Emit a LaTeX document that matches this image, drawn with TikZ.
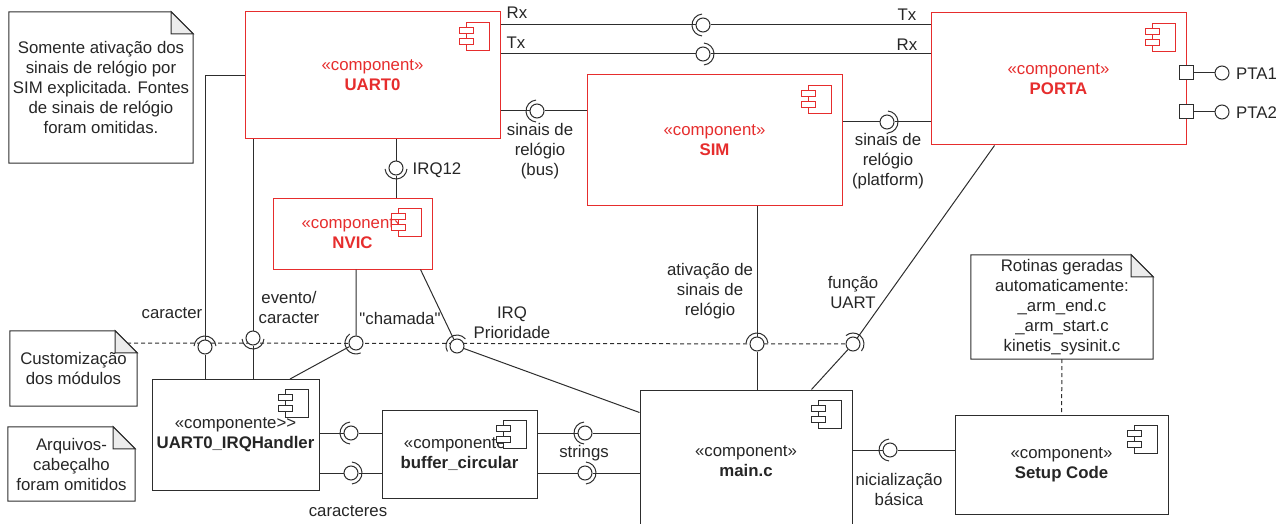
\documentclass[tikz,border=0pt]{standalone}
\usepackage{fontspec}
\setmainfont{Liberation Sans}[Ligatures=TeXOff]
\usepackage{tikz}
\usetikzlibrary{positioning, backgrounds}
\definecolor{compred}{RGB}{230,45,45}
\definecolor{lncol}{RGB}{45,45,45}
\definecolor{earfill}{RGB}{236,236,236}

% socket arc around a ball node: #1 ball, #2 direction of the arc
\newcommand{\sock}[2]{\draw[conn] (#1.center) ++(#2-85:11pt) arc[start angle=#2-85, end angle=#2+85, radius=11pt];}

\begin{document}
\begin{tikzpicture}[x=1pt, y=-1pt,
    font=\fontsize{16.8}{20}\selectfont,
    comp/.style={draw=lncol, fill=white, line width=1pt, align=center, inner sep=0pt, text=black!85},
    rcomp/.style={comp, draw=compred, text=compred},
    note/.style={align=center, inner sep=0pt, text=black!85},
    lbl/.style={align=center, inner sep=0pt, text=black!85},
    conn/.style={draw=lncol, line width=1pt},
    dashln/.style={conn, dash pattern=on 4pt off 3pt},
    ball/.style={circle, draw=lncol, fill=white, line width=1pt, minimum size=14pt, inner sep=0pt},
    port/.style={rectangle, draw=lncol, fill=white, line width=1pt, minimum size=14pt, inner sep=0pt},
    compico/.pic={
        \draw[line width=1pt, fill=white] (-34,11) rectangle (-11,39);
        \draw[line width=1pt, fill=white] (-41,16) rectangle (-27,22);
        \draw[line width=1pt, fill=white] (-41,27) rectangle (-27,33);
    }
]
    \useasboundingbox (0,0) rectangle (1282,524);

    % Components
    \node[rcomp, minimum width=255pt, minimum height=127pt] (uart) at (372.5,75.5) {«component»\\\textbf{UART0}};
    \node[rcomp, minimum width=255pt, minimum height=132pt] (porta) at (1058.5,79) {«component»\\\textbf{PORTA}};
    \node[rcomp, minimum width=255pt, minimum height=130pt] (sim) at (714.5,140) {«component»\\\textbf{SIM}};
    \node[rcomp, minimum width=159pt, minimum height=71pt] (nvic) at (352.5,233.5) {«component»\\\textbf{NVIC}};
    \node[comp, minimum width=167pt, minimum height=111pt] (handler) at (235.5,434.5) {«componente>{}>\\\textbf{UART0\_IRQHandler}};
    \node[comp, minimum width=155pt, minimum height=88pt] (buffer) at (459.5,454) {«componente»\\\textbf{buffer\_circular}};
    \node[comp, minimum width=212pt, minimum height=150pt, text depth=0pt] (mainc) at (746,465) {\raisebox{8pt}{\shortstack{«component»\\[2pt]\textbf{main.c}}}};
    \node[comp, minimum width=213pt, minimum height=99pt] (setup) at (1061.5,464.5) {«component»\\\textbf{Setup Code}};

    \pic[color=compred] at (uart.north east) {compico};
    \pic[color=compred] at (porta.north east) {compico};
    \pic[color=compred] at (sim.north east) {compico};
    \pic[color=compred] at (nvic.north east) {compico};
    \pic[color=lncol] at (handler.north east) {compico};
    \pic[color=lncol] at (buffer.north east) {compico};
    \pic[color=lncol] at (mainc.north east) {compico};
    \pic[color=lncol] at (setup.north east) {compico};

    % Notes
    \node[note, minimum width=184pt, minimum height=151pt] (noteclk) at (101,87.5) {Somente ativação dos\\sinais de relógio por\\SIM explicitada. Fontes\\de sinais de relógio\\foram omitidas.};
    \node[note, minimum width=127pt, minimum height=75pt] (notecust) at (73.5,368.5) {Customização\\dos módulos};
    \node[note, minimum width=127pt, minimum height=74pt] (notehdr) at (71.5,464) {Arquivos-\\cabeçalho\\foram omitidos};
    \node[note, minimum width=182pt, minimum height=104pt] (noterot) at (1062,307) {Rotinas geradas\\automaticamente:\\\_arm\_end.c\\\_arm\_start.c\\kinetis\_sysinit.c};
    \foreach \n in {noteclk, notecust, notehdr, noterot} {
        \draw[conn] (\n.north west) -- ([xshift=-22pt]\n.north east) -- ([yshift=-22pt]\n.north east) -- (\n.south east) -- (\n.south west) -- cycle;
        \draw[conn, fill=earfill] ([xshift=-22pt]\n.north east) -- ([xshift=-22pt, yshift=-22pt]\n.north east) -- ([yshift=-22pt]\n.north east) -- cycle;
    }

    % PORTA ports
    \node[port] (p1) at (1186,73) {};
    \node[port] (p2) at (1186,112) {};
    \node[ball] (pta1) at (1222,73) {};
    \node[ball] (pta2) at (1222,112) {};
    \draw[conn] (p1) -- (pta1);
    \draw[conn] (p2) -- (pta2);
    \node[lbl, anchor=west] (lpta1) at (1236,74) {PTA1};
    \node[lbl, anchor=west] (lpta2) at (1236,113) {PTA2};

    % Interfaces
    \node[ball] (b1) at (703,25) {};
    \node[ball] (b2) at (703,54) {};
    \node[ball] (b3) at (537,111) {};
    \node[ball] (b4) at (887,122) {};
    \node[ball] (b5) at (396,168) {};
    \node[ball] (b6) at (205,347) {};
    \node[ball] (b7) at (253,338) {};
    \node[ball] (b8) at (356,343) {};
    \node[ball] (b9) at (457,346) {};
    \node[ball] (b10) at (757,344) {};
    \node[ball] (b11) at (853,344) {};
    \node[ball] (b12) at (890,450) {};
    \node[ball] (b13) at (351,433) {};
    \node[ball] (b14) at (351,473) {};
    \node[ball] (b15) at (585,433) {};
    \node[ball] (b16) at (585,473) {};

    \sock{b1}{180} \sock{b2}{0} \sock{b3}{180} \sock{b4}{0}
    \sock{b5}{270} \sock{b6}{90} \sock{b7}{270} \sock{b8}{210}
    \sock{b9}{125} \sock{b10}{90} \sock{b11}{45} \sock{b12}{180}
    \sock{b13}{180} \sock{b14}{0} \sock{b15}{180} \sock{b16}{0}

    \begin{scope}[on background layer]
        \draw[dashln] ([xshift=-10pt]notecust.east |- b8) -- (b11);
    \end{scope}
    \draw[dashln] (noterot) -- (setup);

    % Connections
    \draw[conn] (uart.east |- b1) -- (b1) -- (porta.west |- b1);
    \draw[conn] (uart.east |- b2) -- (b2) -- (porta.west |- b2);
    \draw[conn] (uart.east |- b3) -- (b3) -- (sim.west |- b3);
    \draw[conn] (sim.east |- b4) -- (b4) -- (porta.west |- b4);
    \draw[conn] (uart.south -| b5) -- (b5) -- (nvic.north -| b5);
    \coordinate (c1) at (205,76);
    \draw[conn] (uart.west |- c1) -- (c1) -- (b6) -- (handler.north -| b6);
    \draw[conn] (uart.south -| b7) -- (b7) -- (handler.north -| b7);
    \coordinate (c2) at (290,379);
    \draw[conn] (nvic.south -| b8) -- (b8) -- (c2);
    \draw[conn] ([xshift=-12pt]nvic.south east) -- (b9) -- ([yshift=-23pt]mainc.north west);
    \draw[conn] (sim.south -| b10) -- (b10) -- (mainc.north -| b10);
    \draw[conn] ([xshift=64pt]porta.south west) -- (b11) -- ([xshift=172pt]mainc.north west);
    \draw[conn] (mainc.east |- b12) -- (b12) -- (setup.west |- b12);
    \draw[conn] (handler.east |- b13) -- (b13) -- (buffer.west |- b13);
    \draw[conn] (handler.east |- b14) -- (b14) -- (buffer.west |- b14);
    \draw[conn] (buffer.east |- b15) -- (b15) -- (mainc.west |- b15);
    \draw[conn] (buffer.east |- b16) -- (b16) -- (mainc.west |- b16);

    % Labels
    \node[lbl] (lrx1) at (517,13) {Rx};
    \node[lbl] (ltx1) at (907,15) {Tx};
    \node[lbl] (ltx2) at (516,43) {Tx};
    \node[lbl] (lrx2) at (907,45) {Rx};
    \node[lbl] (lbus) at (540,151) {sinais de\\relógio\\(bus)};
    \node[lbl] (lplat) at (888,161) {sinais de\\relógio\\(platform)};
    \node[lbl] (lirq) at (437,170) {IRQ12};
    \node[lbl] (lcar) at (172,313) {caracter};
    \node[lbl] (levt) at (289,307) {evento/\\caracter};
    \node[lbl] (lcham) at (400,318) {"chamada"};
    \node[lbl] (lprio) at (512,323) {IRQ\\Prioridade};
    \node[lbl] (lativ) at (710,291) {ativação de\\sinais de\\relógio};
    \node[lbl] (lfunc) at (853,293) {função\\UART};
    \node[lbl] (linit) at (899,489) {nicialização\\básica};
    \node[lbl] (lcars) at (348,511) {caracteres};
    \node[lbl] (lstr) at (584,453) {strings};
\end{tikzpicture}
\end{document}
